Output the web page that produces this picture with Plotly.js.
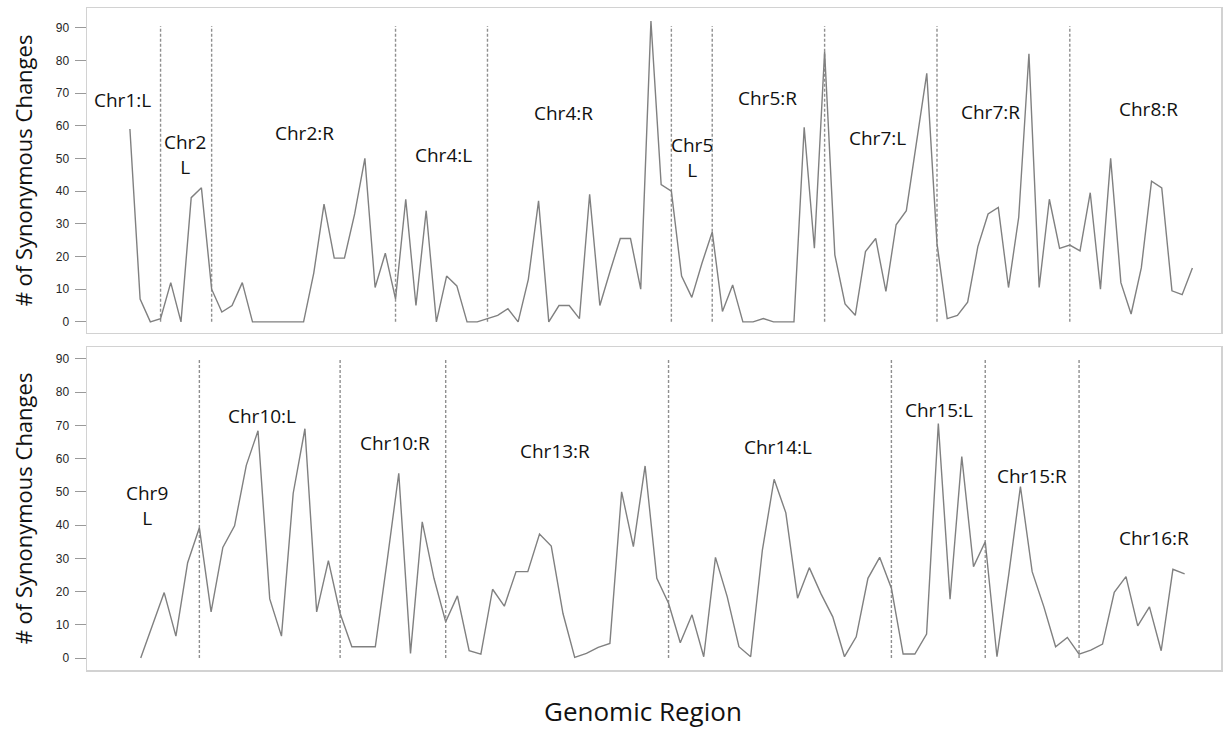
<!DOCTYPE html>
<html>
<head>
<meta charset="utf-8">
<script src="https://cdn.plot.ly/plotly-3.0.1.min.js"></script>
<style>html,body{margin:0;padding:0;background:#fff;}#chart{width:1223px;height:731px;}</style>
</head>
<body>
<div id="chart"></div>
<script>
// ---- data ----
const topValues = [59,7,0,1,12,0,38,41,10,3,5,12,0,0,0,0,0,0,15,36,19.5,19.5,33,50,10.5,21,7,37.5,5,34,0,14,11,0,0,1,2,4,0,13,37,0,5,5,1,39,5,15.5,25.5,25.5,10,92,42,40,14,7.5,18,27.5,3.2,11.3,0,0,1,0,0,0,59.5,22.5,82.7,20.5,5.5,2,21.5,25.5,9.3,29.7,34,55,76,24,1,2,6,23,33,35,10.5,32,82,10.5,37.5,22.5,23.5,21.7,39.5,10,50,12,2.4,16.5,43,41,9.5,8.3,16.5];
const bottomValues = [0,10,19.7,6.6,28.7,39.2,13.9,33.3,39.8,58,68.4,17.8,6.6,49.6,69,13.9,29.3,13.4,3.4,3.4,3.4,29,55.6,1.4,41,24,10.9,18.7,2.2,1.2,20.7,15.6,26,26,37.3,33.7,13.4,0.2,1.4,3.2,4.4,50,33.5,57.8,24,16.5,4.6,13,0.4,30.3,18.5,3.4,0.4,32.5,53.8,43.7,18,27.2,19.3,12.4,0.4,6.4,24,30.3,21,1.2,1.2,7.2,70.6,17.7,60.6,27.5,35,0.4,25,51.6,26,15.4,3.4,6.2,1.2,2.4,4.2,19.8,24.5,9.7,15.4,2.2,26.7,25.3];
// region boundaries (index of genomic region where the dashed separator sits)
const topBoundaries = [3, 8, 26, 35, 53, 57, 68, 79, 92];
const bottomBoundaries = [5, 17, 26, 45, 64, 72, 80];
const yTickVals = [0,10,20,30,40,50,60,70,80,90];
const topRegionLabels = ['Chr1:L','Chr2<br>L','Chr2:R','Chr4:L','Chr4:R','Chr5<br>L','Chr5:R','Chr7:L','Chr7:R','Chr8:R'];
const bottomRegionLabels = ['Chr9<br>L','Chr10:L','Chr10:R','Chr13:R','Chr14:L','Chr15:L','Chr15:R','Chr16:R'];

// ---- label placement (layout) ----
const topLabelPos = [[-0.7,68],[5.4,51.2],[17.1,57.8],[30.7,51.1],[42.4,63.9],[55.0,50.3],[62.4,68.5],[73.2,56.3],[84.2,64.2],[99.7,65.1]];
const bottomLabelPos = [[0.5,46],[10.3,72.8],[21.7,64.6],[35.35,62.3],[54.3,63.4],[68.1,74.7],[76.0,54.8],[86.4,36.0]];

const idx = arr => arr.map((_, i) => i);
const lineStyle = {color:'#808080', width:1.4};

const traces = [
  {x: idx(topValues), y: topValues, xaxis:'x', yaxis:'y', type:'scatter', mode:'lines', line:lineStyle, hoverinfo:'skip'},
  {x: idx(bottomValues), y: bottomValues, xaxis:'x2', yaxis:'y2', type:'scatter', mode:'lines', line:lineStyle, hoverinfo:'skip'}
];

const dashStyle = {color:'#8f8f8f', width:1.4, dash:'3px,2px'};
const shapes = [];
topBoundaries.forEach(b => shapes.push({type:'line', xref:'x', yref:'y', x0:b, x1:b, y0:0, y1:90.5, line:dashStyle, layer:'below'}));
bottomBoundaries.forEach(b => shapes.push({type:'line', xref:'x2', yref:'y2', x0:b, x1:b, y0:0, y1:90, line:dashStyle, layer:'below'}));

const labelFont = {family:'Open Sans, sans-serif', size:19, color:'#111'};
const annotations = [];
topRegionLabels.forEach((t, i) => annotations.push({text:t, x:topLabelPos[i][0], y:topLabelPos[i][1], xref:'x', yref:'y', showarrow:false, font:labelFont}));
bottomRegionLabels.forEach((t, i) => annotations.push({text:t, x:bottomLabelPos[i][0], y:bottomLabelPos[i][1], xref:'x2', yref:'y2', showarrow:false, font:labelFont}));
annotations.push({text:'Genomic Region', xref:'paper', yref:'paper', x:0.4903, y:-0.0915, xanchor:'center', yanchor:'bottom', showarrow:false, font:{family:'Open Sans, sans-serif', size:26, color:'#111'}});

const frame = {showline:true, mirror:true, linecolor:'#d2d2d2', linewidth:1.5, showgrid:false, zeroline:false};
const yAxisBase = Object.assign({}, frame, {
  tickvals: yTickVals, ticks:'outside', ticklen:11, tickwidth:1, tickcolor:'#9a9a9a',
  ticklabelstandoff:3,
  tickfont:{family:'Liberation Sans, Arial, sans-serif', size:12, color:'#262626'},
  title:{text:'# of Synonymous Changes', font:{family:'Open Sans, sans-serif', size:22, color:'#111'}, standoff:17}
});

const layout = {
  template:{},
  width:1223, height:731,
  margin:{l:87, r:2, t:8, b:61},
  paper_bgcolor:'#fff', plot_bgcolor:'#fff',
  showlegend:false,
  xaxis: Object.assign({}, frame, {domain:[0,1], anchor:'y', range:[-4.2,106.8], showticklabels:false, ticks:''}),
  yaxis: Object.assign({}, yAxisBase, {domain:[0.5091,1], anchor:'x', range:[-3.4,96]}),
  xaxis2: Object.assign({}, frame, {domain:[0,1], anchor:'y2', range:[-4.58,92.1], showticklabels:false, ticks:''}),
  yaxis2: Object.assign({}, yAxisBase, {domain:[0,0.4879], anchor:'x2', range:[-3.6,93.6]}),
  shapes: shapes,
  annotations: annotations
};

Plotly.newPlot('chart', traces, layout, {displayModeBar:false, staticPlot:true});
</script>
</body>
</html>
